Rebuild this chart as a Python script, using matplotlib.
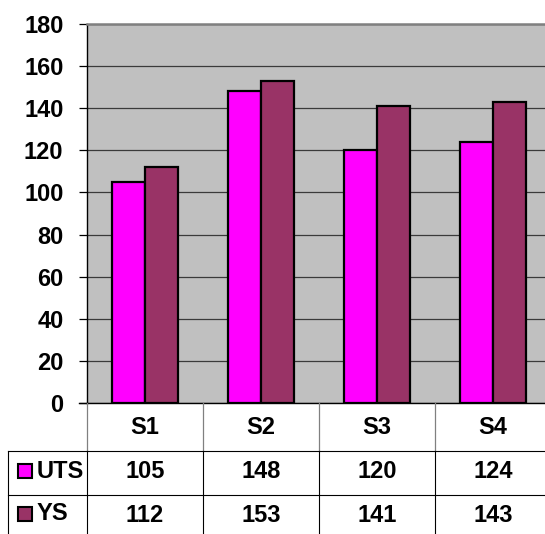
import matplotlib
matplotlib.use("Agg")
import matplotlib.pyplot as plt
import matplotlib.transforms as mtransforms
from matplotlib.lines import Line2D
from matplotlib.patches import Rectangle
import numpy as np

categories = ["S1", "S2", "S3", "S4"]
series_names = ["UTS", "YS"]
uts = [105, 148, 120, 124]
ys = [112, 153, 141, 143]
yticks = [0, 20, 40, 60, 80, 100, 120, 140, 160, 180]

colors = ["#FF00FF", "#993366"]
W, H = 545, 534
plt.rcParams['font.family'] = ['Liberation Sans', 'DejaVu Sans']
plt.rcParams['font.weight'] = 'bold'

fig = plt.figure(figsize=(W / 100, H / 100), dpi=100)
fig.patch.set_facecolor("white")

def fx(x):
    return x / W

def fy(y):
    return 1 - y / H

ax = fig.add_axes([fx(87), fy(403), (551 - 87) / W, (403 - 24) / H])
ax.set_facecolor("#C0C0C0")
x = np.arange(len(categories))
bw = 0.285
ax.bar(x - bw / 2, uts, bw, color=colors[0], edgecolor="black", linewidth=1.6, zorder=3)
ax.bar(x + bw / 2, ys, bw, color=colors[1], edgecolor="black", linewidth=1.6, zorder=3)
ax.set_xlim(-0.5, len(categories) - 0.5)
ax.set_ylim(0, 180)
ax.set_yticks(yticks)
ax.set_yticklabels([str(v) for v in yticks], fontsize=17, fontweight="bold")
ax.set_xticks([])
ax.yaxis.grid(True, color="#3a3a3a", linewidth=0.9, zorder=1)
ax.set_axisbelow(True)
ax.tick_params(axis="y", length=6, width=0.9, pad=11, color="black")
for s in ["right"]:
    ax.spines[s].set_visible(False)
ax.spines["top"].set_color("#808080")
ax.spines["top"].set_linewidth(1.8)
ax.spines["left"].set_color("black")
ax.spines["left"].set_linewidth(1.0)
ax.spines["bottom"].set_color("black")
ax.spines["bottom"].set_linewidth(1.0)

def line(x0, y0, x1, y1, color="black", lw=0.8):
    fig.add_artist(Line2D([fx(x0), fx(x1)], [fy(y0), fy(y1)], transform=fig.transFigure,
                          color=color, linewidth=lw))

# x-axis tick stub at 0
line(79, 403, 87, 403, lw=1.0)
# header row separators
line(87, 403, 87, 451, color="#808080", lw=0.9)
for xb in [203, 319, 435]:
    line(xb, 403, xb, 451, color="#808080", lw=0.9)
# body lines
line(8, 451, 545, 451)
line(8, 495, 545, 495)
line(8, 451, 8, 534)
for xb in [87, 203, 319, 435]:
    line(xb, 451, xb, 534)

trans = mtransforms.blended_transform_factory(ax.transData, fig.transFigure)
for i, c in enumerate(categories):
    ax.text(x[i], fy(427), c, transform=trans, ha="center", va="center",
            fontsize=17, fontweight="bold", clip_on=False)
    ax.text(x[i], fy(472), str(uts[i]), transform=trans, ha="center", va="center",
            fontsize=17, fontweight="bold", clip_on=False)
    ax.text(x[i], fy(515), str(ys[i]), transform=trans, ha="center", va="center",
            fontsize=17, fontweight="bold", clip_on=False)

for j, (name, col, yc) in enumerate(zip(series_names, colors, [471, 514])):
    fig.add_artist(Rectangle((fx(18), fy(yc + 7)), 14 / W, 14 / H, transform=fig.transFigure,
                             facecolor=col, edgecolor="black", linewidth=1.5))
    fig.text(fx(37), fy(yc), name, ha="left", va="center", fontsize=17, fontweight="bold")

fig.savefig("out.png", dpi=100)
